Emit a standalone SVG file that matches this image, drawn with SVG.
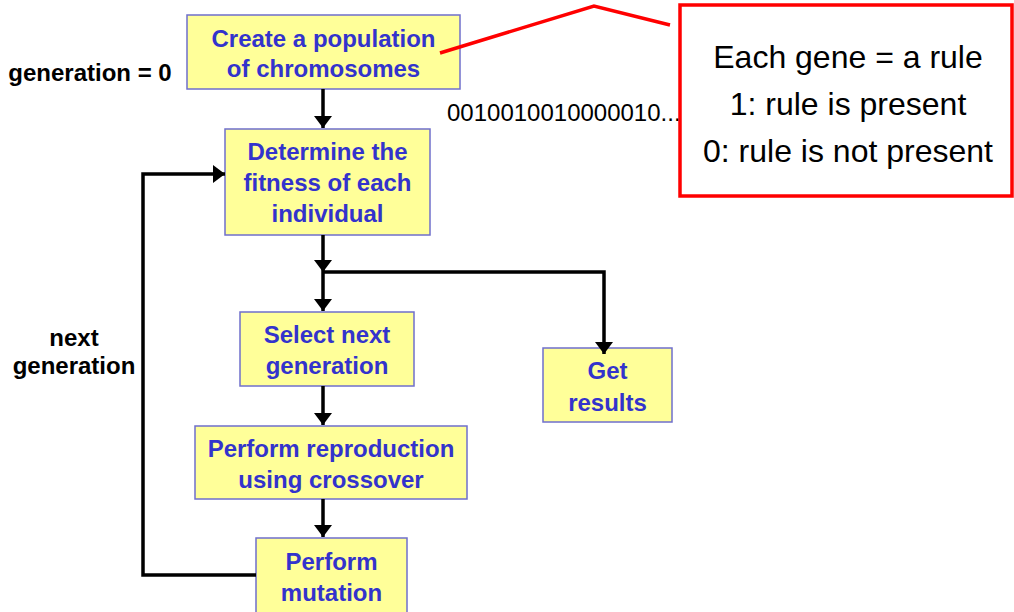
<svg xmlns="http://www.w3.org/2000/svg" width="1014" height="612" viewBox="0 0 1014 612">
  <style>
    .box { fill: #FFFF99; stroke: #6F6FCC; stroke-width: 1.5; }
    .btxt { font-family: "Liberation Sans", Arial, sans-serif; font-size: 24px; font-weight: bold; fill: #3333CC; text-anchor: middle; }
    .lbl { font-family: "Liberation Sans", Arial, sans-serif; font-size: 24px; font-weight: bold; fill: #000000; text-anchor: middle; }
    .plain { font-family: "Liberation Sans", Arial, sans-serif; fill: #000000; }
    .wire { fill: none; stroke: #000000; stroke-width: 3.5; stroke-linejoin: miter; }
    .callout { fill: #FFFFFF; stroke: #FF0000; stroke-width: 3.5; }
    .pointer { fill: none; stroke: #FF0000; stroke-width: 3.5; stroke-linejoin: miter; }
  </style>
  <defs>
    <marker id="arrow" markerUnits="userSpaceOnUse" markerWidth="12" markerHeight="20" viewBox="0 0 12 20" refX="12" refY="10" orient="auto">
      <path d="M0,1 L12,10 L0,19 z" fill="#000000"/>
    </marker>
  </defs>

  <!-- side labels -->
  <text class="lbl" x="90" y="81">generation = 0</text>
  <text class="lbl" x="74" y="346">next</text>
  <text class="lbl" x="74" y="374">generation</text>

  <!-- encoding sample -->
  <text class="plain" x="447" y="121" font-size="24">0010010010000010...</text>

  <!-- nodes -->
  <g id="create">
    <rect class="box" x="187" y="15" width="273" height="74"/>
    <text class="btxt" x="323.5" y="47">Create a population</text>
    <text class="btxt" x="323.5" y="77">of chromosomes</text>
  </g>
  <g id="fitness">
    <rect class="box" x="225" y="129" width="205" height="106"/>
    <text class="btxt" x="327.5" y="160">Determine the</text>
    <text class="btxt" x="327.5" y="191">fitness of each</text>
    <text class="btxt" x="327.5" y="222">individual</text>
  </g>
  <g id="select">
    <rect class="box" x="240" y="312" width="174" height="74"/>
    <text class="btxt" x="327" y="343">Select next</text>
    <text class="btxt" x="327" y="374">generation</text>
  </g>
  <g id="crossover">
    <rect class="box" x="195" y="426" width="272" height="73"/>
    <text class="btxt" x="331" y="457">Perform reproduction</text>
    <text class="btxt" x="331" y="488">using crossover</text>
  </g>
  <g id="mutation">
    <rect class="box" x="256" y="538" width="151" height="80"/>
    <text class="btxt" x="331.5" y="570">Perform</text>
    <text class="btxt" x="331.5" y="601">mutation</text>
  </g>
  <g id="results">
    <rect class="box" x="543" y="348" width="129" height="74"/>
    <text class="btxt" x="607.5" y="379">Get</text>
    <text class="btxt" x="607.5" y="411">results</text>
  </g>

  <!-- connectors, drawn over the boxes so arrow tips stay visible -->
  <g id="connectors">
    <path class="wire" d="M323,89 V128" marker-end="url(#arrow)"/>
    <path class="wire" d="M323,235 V272" marker-end="url(#arrow)"/>
    <path class="wire" d="M323,272 V311" marker-end="url(#arrow)"/>
    <path class="wire" d="M323,272 H604 V354" marker-end="url(#arrow)"/>
    <path class="wire" d="M323,386 V425" marker-end="url(#arrow)"/>
    <path class="wire" d="M323,499 V537" marker-end="url(#arrow)"/>
    <path class="wire" d="M256,575 H143 V174 H225" marker-end="url(#arrow)"/>
  </g>

  <!-- callout -->
  <g id="note">
    <polyline class="pointer" points="440,53 594,6 670,25"/>
    <rect class="callout" x="680" y="5" width="332" height="191"/>
    <text class="plain" x="848" y="68" font-size="32" text-anchor="middle">Each gene = a rule</text>
    <text class="plain" x="848" y="115" font-size="32" text-anchor="middle">1: rule is present</text>
    <text class="plain" x="848" y="162" font-size="32" text-anchor="middle">0: rule is not present</text>
  </g>
</svg>
